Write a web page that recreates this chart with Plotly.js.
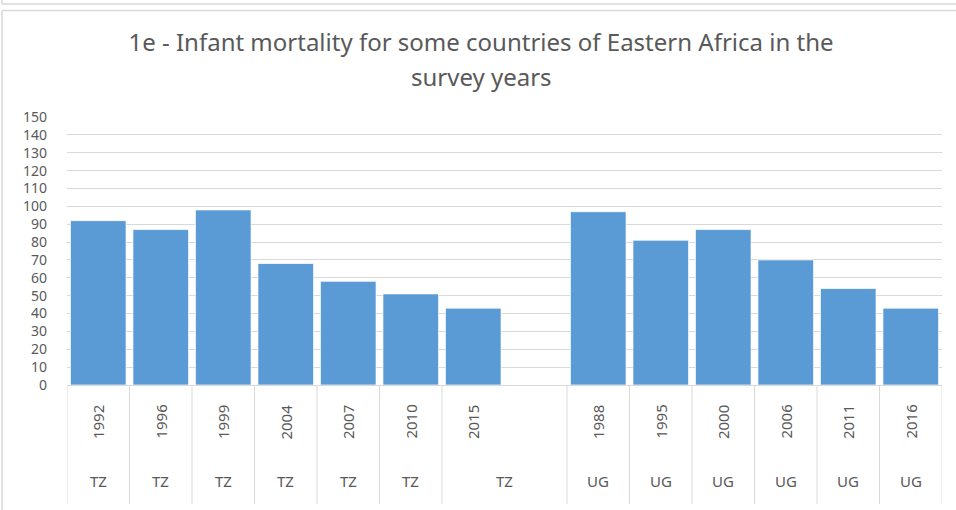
<!DOCTYPE html>
<html>
<head>
<meta charset="utf-8">
<script src="https://cdn.plot.ly/plotly-3.0.1.min.js"></script>
<style>html,body{margin:0;padding:0;background:#fff;}#chart{width:956px;height:510px;}</style>
</head>
<body>
<div id="chart"></div>
<script>
// ---- data ----
const years = ['1992','1996','1999','2004','2007','2010','2015',' ','1988','1995','2000','2006','2011','2016'];
const countries = ['TZ','TZ','TZ','TZ','TZ','TZ','TZ','','UG','UG','UG','UG','UG','UG'];
const mortality = [92, 87, 98, 68, 58, 51, 43, null, 97, 81, 87, 70, 54, 43];
const yTicks = [0,10,20,30,40,50,60,70,80,90,100,110,120,130,140,150];
const titleLine1 = '1e - Infant mortality for some countries of Eastern Africa in the';
const titleLine2 = 'survey years';

// ---- layout helpers (pixel geometry of the page) ----
const W = 956, H = 510;
const M = {l: 67, r: 14, t: 116.5, b: 124.5};
const plotW = W - M.l - M.r, plotH = H - M.t - M.b;
const pxX = px => (px - M.l) / plotW;
const pxY = py => (H - M.b - py) / plotH;

const textColor = '#595959';
const gridColor = '#d9d9d9';
const font = 'Noto Sans, Open Sans, sans-serif';
const titleSize = 24;

const annotations = [];
const shapes = [];
const n = years.length;
for (let i = 0; i < n; i++) {
  if (years[i].trim() !== '') {
    annotations.push({x: i, xref: 'x', y: pxY(422.5), yref: 'paper', text: years[i],
      textangle: -90, showarrow: false, xanchor: 'center', yanchor: 'middle',
      font: {family: font, size: 15, color: textColor}});
  }
  if (countries[i] !== '') {
    const merged = (i + 1 < n && countries[i + 1] === '');
    annotations.push({x: merged ? i + 0.5 : i, xref: 'x', y: pxY(481.7), yref: 'paper',
      text: countries[i], showarrow: false, xanchor: 'center', yanchor: 'middle',
      font: {family: font, size: 15, color: textColor}});
  }
}
// second title line
annotations.push({x: pxX(481), xref: 'paper', y: pxY(76), yref: 'paper', text: titleLine2,
  showarrow: false, xanchor: 'center', yanchor: 'middle',
  font: {family: font, size: titleSize, color: textColor}});

// category dividers in the label area
for (let b = 0; b <= n; b++) {
  const xb = b - 0.5;
  if (b > 0 && b < n && countries[b] === '') continue;
  shapes.push({type: 'line', xref: 'x', yref: 'paper', x0: xb, x1: xb,
    y0: 0, y1: pxY(505), line: {color: gridColor, width: 1}});
}
// outer frames
shapes.push({type: 'line', xref: 'paper', yref: 'paper', x0: pxX(2), x1: pxX(960), y0: pxY(3), y1: pxY(3), line: {color: '#d9d9d9', width: 1.5}});
shapes.push({type: 'line', xref: 'paper', yref: 'paper', x0: pxX(2), x1: pxX(2), y0: pxY(-2), y1: pxY(3), line: {color: '#d9d9d9', width: 1.5}});
shapes.push({type: 'line', xref: 'paper', yref: 'paper', x0: pxX(2), x1: pxX(960), y0: pxY(9.5), y1: pxY(9.5), line: {color: '#d9d9d9', width: 1.5}});
shapes.push({type: 'line', xref: 'paper', yref: 'paper', x0: pxX(2), x1: pxX(2), y0: pxY(9.5), y1: pxY(515), line: {color: '#d9d9d9', width: 1.5}});

const trace = {
  type: 'bar',
  x: years,
  y: mortality,
  marker: {color: '#5b9bd5', line: {color: 'rgba(255,255,255,0.7)', width: 1}},
  hoverinfo: 'x+y'
};

const layout = {
  width: W, height: H,
  margin: M,
  paper_bgcolor: '#ffffff', plot_bgcolor: '#ffffff',
  showlegend: false,
  bargap: 0.11,
  title: {text: titleLine1, x: 481 / W, xanchor: 'center', xref: 'container',
    y: 1 - 43 / H, yref: 'container', yanchor: 'middle',
    font: {family: font, size: titleSize, color: textColor}},
  xaxis: {type: 'category', categoryorder: 'array', categoryarray: years,
    showticklabels: false, showgrid: false, zeroline: false, showline: false,
    ticks: '', fixedrange: true, range: [-0.5, n - 0.5]},
  yaxis: {range: [0, 150], tickvals: yTicks, ticktext: yTicks.map(String),
    showgrid: true, gridcolor: gridColor, gridwidth: 1, zeroline: true,
    zerolinecolor: gridColor, zerolinewidth: 1, showline: false, ticks: '',
    ticklabelstandoff: 19,
    tickfont: {family: font, size: 14, color: textColor}, fixedrange: true},
  annotations: annotations,
  shapes: shapes
};

Plotly.newPlot('chart', [trace], layout, {displayModeBar: false, staticPlot: true});
</script>
</body>
</html>
